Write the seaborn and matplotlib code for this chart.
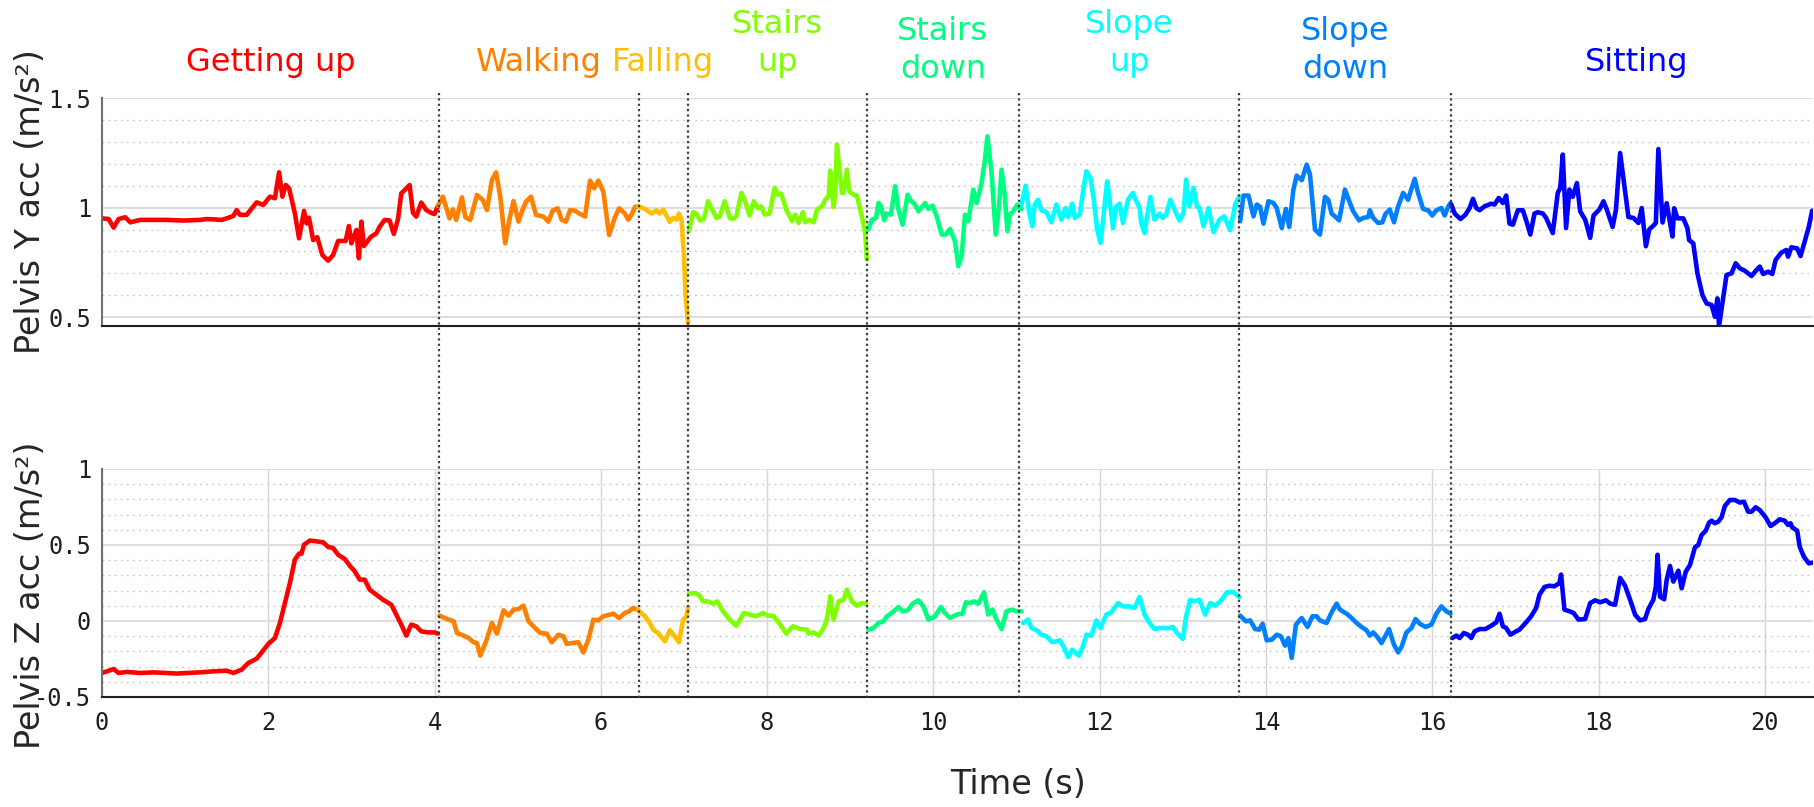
import matplotlib
matplotlib.use("Agg")
import matplotlib.pyplot as plt
import matplotlib.ticker as mticker
import matplotlib.transforms as mtransforms
from matplotlib.lines import Line2D
import pandas as pd
import seaborn as sns

# activities, their boundaries in seconds and colours
activities = ["Getting up", "Walking", "Falling", "Stairs\nup", "Stairs\ndown",
              "Slope\nup", "Slope\ndown", "Sitting"]
bounds = [0.0, 4.05, 6.454, 7.052, 9.196, 11.032, 13.678, 16.223, 20.7]
colors = ["#ff0000", "#ff8000", "#ffbf00", "#80ff00", "#00ff80", "#00ffff", "#0080ff", "#0000ff"]

# ---- Pelvis Y acceleration, one pair of lists per activity ----
gu_t_y = [0.0, 0.08, 0.14, 0.2, 0.28, 0.34, 0.46, 0.58, 0.78, 0.98,
          1.18, 1.26, 1.44, 1.5, 1.58, 1.62, 1.66, 1.74, 1.86, 1.94,
          2.02, 2.08, 2.13, 2.17, 2.21, 2.25, 2.32, 2.37, 2.43, 2.46,
          2.49, 2.54, 2.59, 2.65, 2.72, 2.78, 2.84, 2.93, 2.97, 3.0,
          3.06, 3.09, 3.12, 3.15, 3.23, 3.3, 3.34, 3.4, 3.46, 3.51,
          3.56, 3.6, 3.7, 3.74, 3.78, 3.84, 3.9, 3.97, 4.0, 4.04]
gu_y = [0.951, 0.948, 0.909, 0.948, 0.956, 0.933, 0.944, 0.944, 0.944, 0.941,
        0.944, 0.948, 0.944, 0.951, 0.962, 0.989, 0.967, 0.967, 1.024, 1.012,
        1.05, 1.043, 1.161, 1.05, 1.103, 1.088, 0.974, 0.86, 0.985, 0.928,
        0.954, 0.852, 0.865, 0.784, 0.758, 0.784, 0.848, 0.848, 0.916, 0.837,
        0.898, 0.769, 0.936, 0.825, 0.865, 0.883, 0.913, 0.944, 0.941, 0.88,
        0.947, 1.065, 1.103, 0.977, 0.959, 1.023, 0.989, 0.974, 0.971, 1.008]

wk_t_y = [4.04, 4.1, 4.18, 4.22, 4.26, 4.33, 4.37, 4.43, 4.51, 4.58,
          4.63, 4.69, 4.74, 4.79, 4.85, 4.9, 4.95, 5.01, 5.05, 5.1,
          5.16, 5.22, 5.31, 5.37, 5.42, 5.48, 5.53, 5.58, 5.63, 5.69,
          5.75, 5.81, 5.87, 5.92, 5.97, 6.03, 6.1, 6.17, 6.22,
          6.29, 6.33, 6.37, 6.41, 6.45]
wk_y = [1.008, 1.05, 0.951, 0.992, 0.944, 1.047, 0.956, 0.944, 1.058, 1.035,
        0.989, 1.126, 1.161, 1.05, 0.837, 0.944, 1.03, 0.936, 0.982, 1.027,
        1.05, 0.967, 0.959, 0.936, 0.986, 0.997, 0.944, 0.936, 0.989, 0.986,
        0.971, 0.959, 1.123, 1.088, 1.123, 1.073, 0.875, 0.956, 0.997,
        0.973, 0.945, 0.968, 1.003, 1.006]

fa_t_y = [6.45, 6.53, 6.61, 6.67, 6.71, 6.75, 6.83, 6.87, 6.91, 6.94, 6.97, 7.0, 7.02, 7.05]
fa_y = [1.006, 0.994, 0.973, 0.988, 0.973, 0.991, 0.935, 0.953, 0.945, 0.973, 0.945, 0.778, 0.596, 0.474]

su_t_y = [7.06, 7.11, 7.15, 7.19, 7.24, 7.29, 7.34, 7.39, 7.43, 7.49,
          7.55, 7.59, 7.63, 7.69, 7.73, 7.79, 7.84, 7.89, 7.93, 7.97,
          8.03, 8.09, 8.13, 8.17, 8.23, 8.3, 8.34, 8.38, 8.43, 8.46,
          8.51, 8.56, 8.6, 8.66, 8.7, 8.74, 8.76, 8.8, 8.82, 8.84,
          8.87, 8.9, 8.92, 8.96, 8.99, 9.04, 9.08, 9.14, 9.18, 9.2]
su_y = [0.892, 0.979, 0.973, 0.942, 0.948, 1.029, 0.991, 0.953, 0.96, 1.029,
        0.953, 0.948, 0.96, 1.067, 1.036, 0.964, 1.029, 0.998, 1.006, 0.968,
        0.973, 1.09, 1.059, 1.064, 0.991, 0.938, 0.968, 0.93, 0.979, 0.933,
        0.945, 0.933, 0.991, 1.006, 1.036, 1.052, 1.169, 1.003, 1.067, 1.287,
        1.173, 1.067, 1.067, 1.173, 1.074, 1.059, 1.055, 0.96, 0.884, 0.763]

sd_t_y = [9.22, 9.26, 9.31, 9.34, 9.37, 9.41, 9.44, 9.49, 9.54, 9.58,
          9.63, 9.69, 9.72, 9.78, 9.82, 9.9, 9.94, 9.99, 10.04, 10.1,
          10.15, 10.2, 10.26, 10.3, 10.34, 10.38, 10.42, 10.48, 10.52, 10.58,
          10.62, 10.65, 10.7, 10.75, 10.79, 10.82, 10.86, 10.89, 10.92, 10.96,
          11.01, 11.06]
sd_y = [0.9, 0.945, 0.953, 1.021, 1.006, 0.942, 0.973, 0.968, 1.097, 0.991,
        0.922, 1.059, 1.036, 1.014, 0.983, 1.021, 0.994, 1.009, 0.96, 0.877,
        0.877, 0.903, 0.847, 0.733, 0.778, 0.968, 0.938, 1.082, 1.021, 1.112,
        1.219, 1.325, 1.158, 0.877, 1.006, 1.173, 1.052, 0.892, 0.968, 0.983,
        1.014, 0.994]

lu_t_y = [11.06, 11.11, 11.15, 11.19, 11.22, 11.26, 11.3, 11.36, 11.42, 11.48,
          11.54, 11.59, 11.62, 11.67, 11.7, 11.76, 11.81, 11.84, 11.89, 11.93,
          11.97, 12.01, 12.04, 12.09, 12.12, 12.16, 12.2, 12.24, 12.28, 12.34,
          12.4, 12.44, 12.48, 12.5, 12.54, 12.57, 12.61, 12.66, 12.72, 12.76,
          12.8, 12.85, 12.9, 12.96, 13.01, 13.04, 13.08, 13.13, 13.17, 13.2,
          13.25, 13.31, 13.37, 13.44, 13.5, 13.57, 13.63, 13.68]
lu_y = [1.014, 1.1, 0.983, 0.915, 1.014, 1.036, 0.988, 0.979, 0.933, 1.014,
        0.945, 0.998, 0.957, 1.018, 0.953, 0.968, 1.097, 1.166, 1.135, 1.036,
        0.9, 0.839, 0.938, 1.12, 1.036, 0.907, 1.006, 1.018, 0.93, 1.036,
        1.067, 1.029, 1.0, 0.93, 0.884, 0.96, 1.049, 0.945, 0.973, 0.953,
        0.968, 1.036, 0.991, 0.942, 0.976, 1.128, 1.006, 1.09, 1.006, 0.998,
        0.915, 0.998, 0.888, 0.945, 0.96, 0.897, 1.014, 1.052]

ld_t_y = [13.69, 13.73, 13.79, 13.85, 13.89, 13.93, 13.97, 14.03, 14.09, 14.13,
          14.19, 14.24, 14.28, 14.33, 14.37, 14.43, 14.49, 14.53, 14.59, 14.65,
          14.71, 14.75, 14.79, 14.83, 14.88, 14.95, 15.01, 15.05, 15.12, 15.17,
          15.23, 15.25, 15.29, 15.35, 15.4, 15.44, 15.49, 15.54, 15.59, 15.65,
          15.71, 15.74, 15.79, 15.83, 15.89, 15.95, 16.0, 16.05, 16.11, 16.15,
          16.19, 16.22]
ld_y = [0.938, 1.055, 1.055, 0.96, 1.014, 1.003, 0.927, 1.029, 1.021, 0.998,
        0.907, 0.994, 0.912, 1.082, 1.146, 1.125, 1.196, 1.15, 0.9, 0.877,
        1.049, 1.036, 0.973, 0.96, 0.942, 1.082, 1.021, 0.983, 0.942, 0.953,
        0.957, 0.988, 0.953, 0.93, 0.933, 0.973, 0.991, 0.933, 1.006, 1.067,
        1.036, 1.074, 1.131, 1.067, 0.994, 0.988, 0.964, 0.988, 0.998, 0.964,
        1.003, 1.021]

si_t_y = [16.23, 16.27, 16.34, 16.4, 16.45, 16.49, 16.53, 16.57, 16.63, 16.71,
          16.75, 16.8, 16.85, 16.89, 16.93, 16.97, 17.03, 17.09, 17.14, 17.18,
          17.23, 17.27, 17.33, 17.37, 17.45, 17.51, 17.54, 17.57, 17.61, 17.65,
          17.69, 17.74, 17.78, 17.84, 17.9, 17.94, 18.01, 18.06, 18.1, 18.17,
          18.21, 18.26, 18.36, 18.42, 18.48, 18.52, 18.57, 18.61, 18.66, 18.69,
          18.72, 18.77, 18.82, 18.86, 18.89, 18.91, 18.95, 19.02, 19.07, 19.09,
          19.14, 19.19, 19.25, 19.3, 19.36, 19.4, 19.43, 19.45, 19.49, 19.54,
          19.6, 19.65, 19.7, 19.76, 19.84, 19.9, 19.94, 19.98, 20.04, 20.09,
          20.13, 20.2, 20.26, 20.28, 20.32, 20.39, 20.43, 20.48, 20.53, 20.57]
si_y = [1.014, 0.973, 0.948, 0.968, 0.998, 1.04, 0.998, 0.988, 1.006, 1.018,
        1.014, 1.044, 1.021, 1.055, 0.927, 0.922, 0.988, 0.988, 0.93, 0.877,
        0.973, 0.979, 0.973, 0.953, 0.884, 1.067, 1.09, 1.242, 0.907, 1.082,
        1.049, 1.112, 0.983, 0.945, 0.862, 0.964, 0.991, 1.029, 0.991, 0.912,
        0.991, 1.249, 0.957, 0.953, 0.93, 0.998, 0.824, 0.9, 0.918, 0.93,
        1.267, 0.932, 1.02, 0.932, 0.868, 0.997, 0.951, 0.951, 0.906, 0.852,
        0.837, 0.7, 0.601, 0.563, 0.556, 0.502, 0.586, 0.46, 0.563, 0.693,
        0.7, 0.746, 0.723, 0.712, 0.688, 0.715, 0.731, 0.697, 0.708, 0.697,
        0.761, 0.795, 0.807, 0.776, 0.819, 0.814, 0.779, 0.845, 0.913, 0.986]

# ---- Pelvis Z acceleration ----
gu_t_z = [0.0, 0.06, 0.14, 0.2, 0.3, 0.46, 0.62, 0.78, 0.9, 1.02,
          1.18, 1.34, 1.5, 1.58, 1.68, 1.76, 1.86, 1.94, 2.0, 2.08,
          2.14, 2.2, 2.26, 2.32, 2.37, 2.4, 2.43, 2.5, 2.58, 2.66,
          2.72, 2.78, 2.84, 2.92, 2.98, 3.04, 3.1, 3.16, 3.22, 3.3,
          3.38, 3.48, 3.54, 3.6, 3.66, 3.72, 3.78, 3.84, 3.92, 4.0, 4.04]
gu_z = [-0.342, -0.331, -0.316, -0.342, -0.335, -0.342, -0.338, -0.342, -0.346, -0.342,
        -0.338, -0.331, -0.327, -0.342, -0.32, -0.276, -0.248, -0.193, -0.151, -0.112,
        -0.013, 0.118, 0.25, 0.404, 0.443, 0.443, 0.502, 0.529, 0.524, 0.518,
        0.487, 0.48, 0.436, 0.408, 0.364, 0.327, 0.272, 0.272, 0.206, 0.173,
        0.14, 0.107, 0.042, -0.024, -0.096, -0.024, -0.035, -0.068, -0.075, -0.075, -0.083]

wk_t_z = [4.06, 4.15, 4.23, 4.27, 4.35, 4.41, 4.47, 4.51, 4.55, 4.62,
          4.69, 4.75, 4.83, 4.89, 4.95, 5.01, 5.07, 5.13, 5.19, 5.27,
          5.35, 5.41, 5.49, 5.55, 5.59, 5.65, 5.73, 5.79, 5.85, 5.91,
          5.97, 6.03, 6.11, 6.15, 6.22, 6.29, 6.34, 6.39, 6.45]
wk_z = [0.035, 0.013, -0.002, -0.079, -0.096, -0.112, -0.14, -0.145, -0.228, -0.134,
        -0.013, -0.083, 0.07, 0.035, 0.075, 0.079, 0.101, -0.002, -0.035, -0.079,
        -0.083, -0.14, -0.09, -0.101, -0.151, -0.145, -0.14, -0.206, -0.123, 0.009,
        0.004, 0.031, 0.042, 0.048, 0.02, 0.053, 0.064, 0.086, 0.07]

fa_t_z = [6.45, 6.53, 6.59, 6.63, 6.69, 6.77, 6.83, 6.89, 6.94, 6.99, 7.03, 7.05]
fa_z = [0.07, 0.031, -0.013, -0.057, -0.079, -0.134, -0.061, -0.101, -0.14, 0.009, 0.031, 0.09]

su_t_z = [7.06, 7.13, 7.18, 7.23, 7.29, 7.35, 7.4, 7.47, 7.55, 7.63,
          7.72, 7.79, 7.87, 7.95, 8.01, 8.07, 8.13, 8.23, 8.31, 8.4,
          8.48, 8.5, 8.56, 8.62, 8.68, 8.72, 8.76, 8.8, 8.86, 8.92,
          8.96, 9.02, 9.08, 9.14, 9.19]
su_z = [0.18, 0.184, 0.173, 0.129, 0.129, 0.114, 0.129, 0.064, 0.009, -0.031,
        0.053, 0.042, 0.031, 0.053, 0.035, 0.035, -0.002, -0.083, -0.035, -0.053,
        -0.057, -0.083, -0.075, -0.096, -0.046, 0.013, 0.162, 0.009, 0.129, 0.14,
        0.206, 0.129, 0.101, 0.118, 0.114]

sd_t_z = [9.22, 9.28, 9.34, 9.4, 9.44, 9.5, 9.58, 9.63, 9.69, 9.75,
          9.82, 9.88, 9.94, 10.02, 10.09, 10.14, 10.2, 10.28, 10.35, 10.39,
          10.44, 10.49, 10.54, 10.61, 10.66, 10.71, 10.76, 10.82, 10.88, 10.94,
          11.0, 11.06]
sd_z = [-0.057, -0.046, -0.013, -0.002, 0.031, 0.053, 0.092, 0.064, 0.07, 0.114,
        0.136, 0.096, 0.009, 0.031, 0.092, 0.053, 0.02, 0.042, 0.048, 0.123,
        0.118, 0.129, 0.114, 0.189, 0.042, 0.075, 0.009, -0.053, 0.064, 0.075,
        0.064, 0.064]

lu_t_z = [11.08, 11.14, 11.18, 11.24, 11.3, 11.36, 11.43, 11.52, 11.57, 11.62,
          11.67, 11.75, 11.8, 11.84, 11.9, 11.96, 12.01, 12.08, 12.14, 12.22,
          12.28, 12.36, 12.42, 12.48, 12.54, 12.6, 12.66, 12.72, 12.78, 12.84,
          12.88, 12.93, 13.0, 13.04, 13.09, 13.14, 13.2, 13.27, 13.33, 13.39,
          13.47, 13.53, 13.61, 13.68]
lu_z = [-0.013, 0.009, -0.046, -0.061, -0.09, -0.101, -0.14, -0.127, -0.171, -0.237,
        -0.189, -0.228, -0.167, -0.09, -0.096, 0.004, -0.046, 0.042, 0.057, 0.118,
        0.096, 0.096, 0.086, 0.158, 0.042, -0.013, -0.053, -0.046, -0.046, -0.046,
        -0.039, -0.079, -0.118, 0.031, 0.14, 0.129, 0.14, 0.042, 0.118, 0.101,
        0.14, 0.189, 0.189, 0.158]

ld_t_z = [13.69, 13.76, 13.81, 13.87, 13.92, 13.96, 14.01, 14.07, 14.13, 14.18,
          14.23, 14.27, 14.31, 14.36, 14.43, 14.5, 14.56, 14.61, 14.65, 14.73,
          14.79, 14.85, 14.89, 14.97, 15.03, 15.09, 15.15, 15.21, 15.25, 15.29,
          15.34, 15.39, 15.43, 15.48, 15.54, 15.59, 15.63, 15.69, 15.75, 15.8,
          15.85, 15.92, 15.99, 16.05, 16.11, 16.17, 16.22]
ld_z = [0.035, -0.002, 0.004, -0.053, -0.057, -0.018, -0.127, -0.123, -0.09, -0.101,
        -0.162, -0.112, -0.243, -0.024, 0.02, -0.039, 0.031, 0.031, 0.004, -0.013,
        0.057, 0.114, 0.075, 0.048, 0.02, -0.013, -0.039, -0.061, -0.096, -0.075,
        -0.105, -0.145, -0.105, -0.053, -0.156, -0.206, -0.171, -0.075, -0.046, 0.013,
        -0.018, -0.039, -0.024, 0.048, 0.096, 0.064, 0.048]

si_t_z = [16.24, 16.29, 16.33, 16.38, 16.43, 16.47, 16.51, 16.57, 16.64, 16.71,
          16.77, 16.81, 16.85, 16.89, 16.94, 17.01, 17.05, 17.13, 17.19, 17.25,
          17.29, 17.35, 17.41, 17.47, 17.53, 17.55, 17.59, 17.65, 17.7, 17.76,
          17.84, 17.9, 17.96, 18.02, 18.09, 18.14, 18.2, 18.26, 18.32, 18.38,
          18.44, 18.5, 18.56, 18.6, 18.66, 18.69, 18.71, 18.74, 18.79, 18.82,
          18.86, 18.9, 18.96, 19.0, 19.05, 19.1, 19.16, 19.2, 19.24, 19.29,
          19.33, 19.36, 19.4, 19.44, 19.48, 19.52, 19.58, 19.64, 19.7, 19.75,
          19.8, 19.84, 19.89, 19.94, 20.01, 20.07, 20.12, 20.18, 20.24, 20.28,
          20.31, 20.33, 20.39, 20.42, 20.47, 20.53, 20.57]
si_z = [-0.112, -0.096, -0.112, -0.079, -0.09, -0.112, -0.068, -0.053, -0.053, -0.031,
        -0.009, 0.048, -0.035, -0.046, -0.09, -0.068, -0.057, -0.009, 0.031, 0.086,
        0.173, 0.224, 0.232, 0.228, 0.25, 0.305, 0.075, 0.064, 0.053, 0.009,
        0.013, 0.118, 0.136, 0.123, 0.136, 0.114, 0.107, 0.283, 0.232, 0.14,
        0.042, 0.004, 0.013, 0.079, 0.14, 0.228, 0.436, 0.16, 0.143, 0.27,
        0.362, 0.259, 0.331, 0.215, 0.325, 0.368, 0.485, 0.5, 0.566, 0.594,
        0.647, 0.66, 0.643, 0.654, 0.682, 0.757, 0.796, 0.796, 0.779, 0.785,
        0.719, 0.719, 0.748, 0.73, 0.682, 0.625, 0.643, 0.669, 0.66, 0.632,
        0.643, 0.616, 0.594, 0.489, 0.423, 0.379, 0.384]

y_times = [gu_t_y, wk_t_y, fa_t_y, su_t_y, sd_t_y, lu_t_y, ld_t_y, si_t_y]
y_vals = [gu_y, wk_y, fa_y, su_y, sd_y, lu_y, ld_y, si_y]
z_times = [gu_t_z, wk_t_z, fa_t_z, su_t_z, sd_t_z, lu_t_z, ld_t_z, si_t_z]
z_vals = [gu_z, wk_z, fa_z, su_z, sd_z, lu_z, ld_z, si_z]


def make_frame(times, vals):
    parts = []
    for name, t, v in zip(activities, times, vals):
        parts.append(pd.DataFrame({"time": t, "acc": v, "activity": name}))
    return pd.concat(parts, ignore_index=True)


df_y = make_frame(y_times, y_vals)
df_z = make_frame(z_times, z_vals)
palette = dict(zip(activities, colors))

sns.set_theme(style="white")
plt.rcParams["font.family"] = ["DejaVu Sans"]

W, H = 1815, 807
fig = plt.figure(figsize=(W / 100, H / 100), dpi=100)
ax1 = fig.add_axes([102 / W, 1 - 326 / H, 1711 / W, 228 / H])
ax2 = fig.add_axes([102 / W, 1 - 697 / H, 1711 / W, 228 / H])

sns.lineplot(data=df_y, x="time", y="acc", hue="activity", hue_order=activities,
             palette=palette, linewidth=3.3, legend=False, errorbar=None, ax=ax1)
sns.lineplot(data=df_z, x="time", y="acc", hue="activity", hue_order=activities,
             palette=palette, linewidth=3.3, legend=False, errorbar=None, ax=ax2)

ax1.set_ylim(0.46, 1.5)
ax2.set_ylim(-0.5, 1.0)
for ax in (ax1, ax2):
    ax.set_xlim(0, 20.58)
    ax.set_xlabel("")
    ax.set_ylabel("")
    ax.yaxis.set_major_locator(mticker.MultipleLocator(0.5))
    ax.yaxis.set_minor_locator(mticker.MultipleLocator(0.1))
    ax.yaxis.set_major_formatter(mticker.FormatStrFormatter("%g"))
    ax.grid(axis="y", which="major", color="#dedede", linewidth=1.5, linestyle="-")
    ax.grid(axis="y", which="minor", color="#c4c4c4", linewidth=1.0, linestyle=(0, (1.2, 3.2)))
    ax.set_axisbelow(True)
    for s in ("top", "right"):
        ax.spines[s].set_visible(False)
    ax.spines["left"].set_color("#707070")
    ax.spines["left"].set_linewidth(1.5)
    ax.spines["bottom"].set_color("#202020")
    ax.spines["bottom"].set_linewidth(1.5)
    ax.tick_params(axis="both", which="major", direction="in", length=12, width=1.2,
                   color="#404040", labelsize=17, labelcolor="#1e1e1e", pad=8)
    ax.tick_params(axis="both", which="minor", length=0)

ax1.set_xticks([])
ax2.xaxis.set_major_locator(mticker.MultipleLocator(2))
ax2.xaxis.set_major_formatter(mticker.FormatStrFormatter("%g"))
ax2.tick_params(axis="x", pad=10)
ax2.grid(axis="x", which="major", color="#d6d6d6", linewidth=1.0)
for ax in (ax1, ax2):
    for lab in ax.get_xticklabels() + ax.get_yticklabels():
        lab.set_family("DejaVu Sans Mono")

# dotted dividers between activities, spanning both panels
trans = mtransforms.blended_transform_factory(ax1.transData, fig.transFigure)
for b in bounds[1:-1]:
    fig.add_artist(Line2D([b, b], [1 - 93 / H, 1 - 697 / H], transform=trans,
                          color="#3c3c3c", linewidth=1.6, linestyle=(0, (1, 1.4))))

# activity names above the top panel
last_baseline = [71, 71, 71, 71, 78, 71, 78, 71]
for i, name in enumerate(activities):
    xc = (bounds[i] + bounds[i + 1]) / 2
    lines = name.split("\n")
    for j, line in enumerate(reversed(lines)):
        yb = last_baseline[i] - 38 * j
        fig.text(xc, 1 - yb / H, line, transform=trans, ha="center", va="baseline",
                 fontsize=23, color=colors[i])

fig.text(31 / W, 1 - 202 / H, "Pelvis Y acc (m/s²)", rotation=90, ha="center", va="center",
         fontsize=24, color="#262626")
fig.text(31 / W, 1 - 595 / H, "Pelvis Z acc (m/s²)", rotation=90, ha="center", va="center",
         fontsize=24, color="#262626")
fig.text(1018 / W, 1 - 785 / H, "Time (s)", ha="center", va="center", fontsize=24, color="#262626")

fig.savefig("out.png", dpi=100)
